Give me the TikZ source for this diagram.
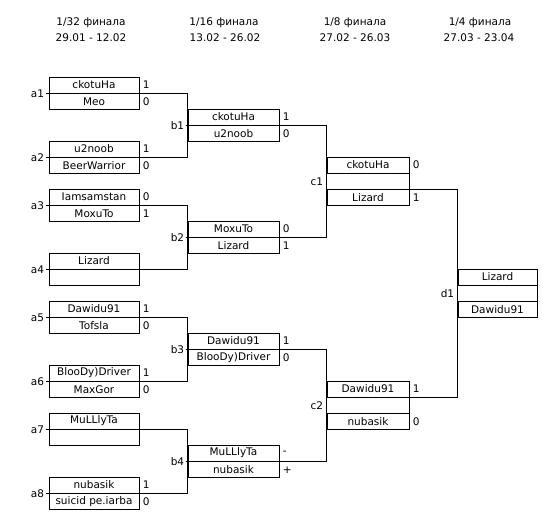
\documentclass[tikz,border=0pt]{standalone}
\usepackage{fontspec}
\setmainfont{DejaVu Sans}
\usetikzlibrary{positioning,
                calc}

\tikzset{
    cell/.style  = {draw, minimum height=16pt, inner sep=0pt,
                    font=\fontsize{10.5}{12}\selectfont},
    cola/.style  = {cell, minimum width=90pt},
    colb/.style  = {cell, minimum width=91pt},
    colc/.style  = {cell, minimum width=82pt},
    cold/.style  = {cell, minimum width=79pt},
    score/.style = {inner sep=0pt, font=\fontsize{10.5}{12}\selectfont},
    tag/.style   = {inner sep=1pt, font=\fontsize{10.5}{12}\selectfont},
    head/.style  = {inner sep=0pt, font=\fontsize{10.5}{12}\selectfont}
}

\begin{document}
\begin{tikzpicture}%
            [x = 1pt, y = {(0pt,-1pt)}, line width = 0.9pt]
            \useasboundingbox (0,0) rectangle (543,522);

            % round titles
            \node [head] (h1) at (91,23) {1/32 финала};
            \node [head] (t1) at (91,38) {29.01 - 12.02};
            \node [head] (h2) at (224,23) {1/16 финала};
            \node [head] (t2) at (225,38) {13.02 - 26.02};
            \node [head] (h3) at (355,23) {1/8 финала};
            \node [head] (t3) at (355,38) {27.02 - 26.03};
            \node [head] (h4) at (480,23) {1/4 финала};
            \node [head] (t4) at (479,38) {27.03 - 23.04};

            % 1/32
            \node [cola] (a1-1) at (94,85) {ckotuHa};
            \node [cola, below=0pt of a1-1] (a1-2) {Meo};
            \node [cola] (a2-1) at (94,149) {u2noob};
            \node [cola, below=0pt of a2-1] (a2-2) {BeerWarrior};
            \node [cola] (a3-1) at (94,197) {Iamsamstan};
            \node [cola, below=0pt of a3-1] (a3-2) {MoxuTo};
            \node [cola] (a4-1) at (94,261) {Lizard};
            \node [cola, below=0pt of a4-1] (a4-2) {};
            \node [cola] (a5-1) at (94,309) {Dawidu91};
            \node [cola, below=0pt of a5-1] (a5-2) {Tofsla};
            \node [cola] (a6-1) at (94,373) {BlooDy)Driver};
            \node [cola, below=0pt of a6-1] (a6-2) {MaxGor};
            \node [cola] (a7-1) at (94,421) {MuLLlyTa};
            \node [cola, below=0pt of a7-1] (a7-2) {};
            \node [cola] (a8-1) at (94,485) {nubasik};
            \node [cola, below=0pt of a8-1] (a8-2) {suicid pe.iarba};

            \node [score, right=3pt of a1-1] (s-a1-1) {1};
            \node [score, right=3pt of a1-2] (s-a1-2) {0};
            \node [score, right=3pt of a2-1] (s-a2-1) {1};
            \node [score, right=3pt of a2-2] (s-a2-2) {0};
            \node [score, right=3pt of a3-1] (s-a3-1) {0};
            \node [score, right=3pt of a3-2] (s-a3-2) {1};
            \node [score, right=3pt of a5-1] (s-a5-1) {1};
            \node [score, right=3pt of a5-2] (s-a5-2) {0};
            \node [score, right=3pt of a6-1] (s-a6-1) {1};
            \node [score, right=3pt of a6-2] (s-a6-2) {0};
            \node [score, right=3pt of a8-1] (s-a8-1) {1};
            \node [score, right=3pt of a8-2] (s-a8-2) {0};

            \node [tag, left=3pt of a1-1.south west] (a1) {a1};
            \node [tag, left=3pt of a2-1.south west] (a2) {a2};
            \node [tag, left=3pt of a3-1.south west] (a3) {a3};
            \node [tag, left=3pt of a4-1.south west] (a4) {a4};
            \node [tag, left=3pt of a5-1.south west] (a5) {a5};
            \node [tag, left=3pt of a6-1.south west] (a6) {a6};
            \node [tag, left=3pt of a7-1.south west] (a7) {a7};
            \node [tag, left=3pt of a8-1.south west] (a8) {a8};

            % 1/16
            \node [colb] (b1-1) at (233.5,117) {ckotuHa};
            \node [colb, below=0pt of b1-1] (b1-2) {u2noob};
            \node [colb] (b2-1) at (233.5,229) {MoxuTo};
            \node [colb, below=0pt of b2-1] (b2-2) {Lizard};
            \node [colb] (b3-1) at (233.5,341) {Dawidu91};
            \node [colb, below=0pt of b3-1] (b3-2) {BlooDy)Driver};
            \node [colb] (b4-1) at (233.5,453) {MuLLlyTa};
            \node [colb, below=0pt of b4-1] (b4-2) {nubasik};

            \node [score, right=3pt of b1-1] (s-b1-1) {1};
            \node [score, right=3pt of b1-2] (s-b1-2) {0};
            \node [score, right=3pt of b2-1] (s-b2-1) {0};
            \node [score, right=3pt of b2-2] (s-b2-2) {1};
            \node [score, right=3pt of b3-1] (s-b3-1) {1};
            \node [score, right=3pt of b3-2] (s-b3-2) {0};
            \node [score, right=3pt of b4-1] (s-b4-1) {-};
            \node [score, right=3pt of b4-2] (s-b4-2) {+};

            \node [tag, left=2pt of b1-1.south west] (b1) {b1};
            \node [tag, left=2pt of b2-1.south west] (b2) {b2};
            \node [tag, left=2pt of b3-1.south west] (b3) {b3};
            \node [tag, left=2pt of b4-1.south west] (b4) {b4};

            % 1/8
            \node [colc] (c1-1) at (368,165) {ckotuHa};
            \node [colc, below=16pt of c1-1] (c1-2) {Lizard};
            \node [colc] (c2-1) at (368,389) {Dawidu91};
            \node [colc, below=16pt of c2-1] (c2-2) {nubasik};

            \node [score, right=3pt of c1-1] (s-c1-1) {0};
            \node [score, right=3pt of c1-2] (s-c1-2) {1};
            \node [score, right=3pt of c2-1] (s-c2-1) {1};
            \node [score, right=3pt of c2-2] (s-c2-2) {0};

            \node [tag, anchor=east] (c1) at ([xshift=-2pt]$(c1-1.south west)!.5!(c1-2.north west)$) {c1};
            \node [tag, anchor=east] (c2) at ([xshift=-2pt]$(c2-1.south west)!.5!(c2-2.north west)$) {c2};

            % 1/4
            \node [cold] (d1-1) at (497.5,277) {Lizard};
            \node [cold, below=16pt of d1-1] (d1-2) {Dawidu91};

            \node [tag, anchor=east] (d1) at ([xshift=-2pt]$(d1-1.south west)!.5!(d1-2.north west)$) {d1};

            % brackets
            \draw (a1.east) -- (a1-1.south -| b1-1.west) |- (a2.east);
            \draw (a3.east) -- (a3-1.south -| b2-1.west) |- (a4.east);
            \draw (a5.east) -- (a5-1.south -| b3-1.west) |- (a6.east);
            \draw (a7.east) -- (a7-1.south -| b4-1.west) |- (a8.east);

            \draw (b1.east) -- (b1-1.south west);
            \draw (b2.east) -- (b2-1.south west);
            \draw (b3.east) -- (b3-1.south west);
            \draw (b4.east) -- (b4-1.south west);

            \draw (b1-1.south east) -| (c1-1.north west) |- (b2-1.south east);
            \draw (b3-1.south east) -| (c2-1.north west) |- (b4-1.south east);

            \draw (c1-1.north east) -- (c1-2.south east);
            \draw (c2-1.north east) -- (c2-2.south east);

            \draw (c1-2.north east) -| (d1-2.south west) |- (c2-1.south east);
            \draw (d1-1.north east) -- (d1-2.south east);

        \end{tikzpicture}
\end{document}
